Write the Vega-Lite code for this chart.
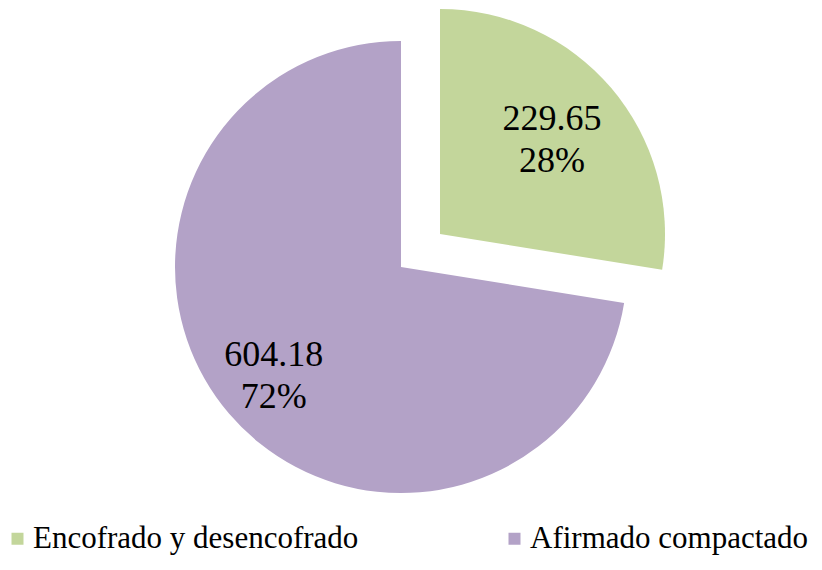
{
  "$schema": "https://vega.github.io/schema/vega-lite/v6.json",
  "width": 802,
  "height": 534,
  "autosize": {"type": "none"},
  "padding": {"left": 0, "top": 0, "right": 20, "bottom": 36},
  "background": "white",
  "data": {
    "values": [
      {"cat": "Encofrado y desencofrado", "value": 229.65},
      {"cat": "Afirmado compactado", "value": 604.18}
    ]
  },
  "transform": [
    {"joinaggregate": [{"op": "sum", "field": "value", "as": "total"}]},
    {"calculate": "format(datum.value, '.2f') + '\\n' + format(datum.value / datum.total, '.0%')", "as": "label"}
  ],
  "encoding": {
    "theta": {"field": "value", "type": "quantitative", "stack": true},
    "order": {"field": "cat", "type": "ordinal", "sort": "descending"}
  },
  "layer": [
    {
      "mark": {"type": "arc", "outerRadius": 225, "xOffset": 39, "yOffset": -33},
      "encoding": {
        "color": {
          "field": "cat",
          "type": "nominal",
          "scale": {"domain": ["Encofrado y desencofrado", "Afirmado compactado"], "range": ["#C3D69B", "#B3A2C7"]},
          "legend": {
            "title": null,
            "orient": "none",
            "legendX": 2,
            "legendY": 523,
            "direction": "horizontal",
            "symbolType": "square",
            "symbolSize": 144,
            "symbolStrokeWidth": 0,
            "symbolOpacity": 1,
            "labelFont": "Liberation Serif",
            "labelFontSize": 31,
            "labelColor": "black",
            "labelOffset": 0,
            "labelLimit": 600,
            "columnPadding": 140
          }
        },
        "opacity": {"condition": {"test": "datum.cat === 'Encofrado y desencofrado'", "value": 1}, "value": 0}
      }
    },
    {
      "mark": {"type": "arc", "outerRadius": 226},
      "encoding": {
        "color": {"field": "cat", "type": "nominal"},
        "opacity": {"condition": {"test": "datum.cat === 'Afirmado compactado'", "value": 1}, "value": 0}
      }
    },
    {
      "mark": {"type": "text", "radius": 147, "xOffset": 39, "yOffset": -33, "dy": -20, "font": "Liberation Serif", "fontSize": 36, "lineBreak": "\n", "lineHeight": 42, "fill": "black"},
      "encoding": {
        "detail": {"field": "cat", "type": "nominal"},
        "text": {"field": "label", "type": "nominal"},
        "opacity": {"condition": {"test": "datum.cat === 'Encofrado y desencofrado'", "value": 1}, "value": 0}
      }
    },
    {
      "mark": {"type": "text", "radius": 167, "dy": -20, "font": "Liberation Serif", "fontSize": 36, "lineBreak": "\n", "lineHeight": 42, "fill": "black"},
      "encoding": {
        "detail": {"field": "cat", "type": "nominal"},
        "text": {"field": "label", "type": "nominal"},
        "opacity": {"condition": {"test": "datum.cat === 'Afirmado compactado'", "value": 1}, "value": 0}
      }
    }
  ],
  "config": {"view": {"stroke": null}}
}
